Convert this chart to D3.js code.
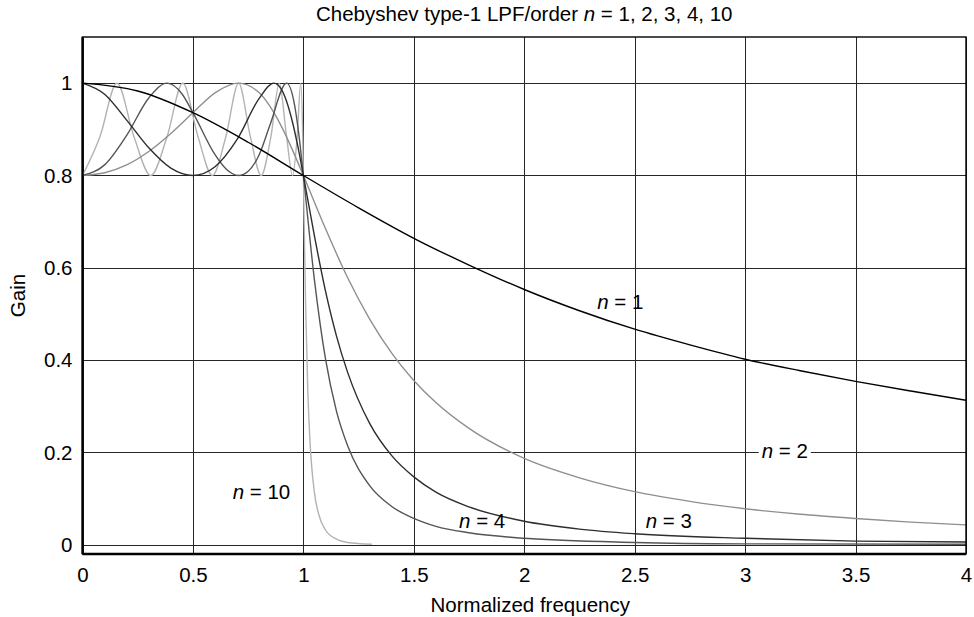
<!DOCTYPE html>
<html lang="en">
<head>
    <meta charset="UTF-8">
    <title>Chebyshev type-1 LPF</title>
    <script src="https://d3js.org/d3.v7.min.js"></script>
    <style>
        body { margin: 0; background: #fff; }
        svg text {
            font-family: "Liberation Sans", Arial, Helvetica, sans-serif;
            fill: #000;
        }
        .grid line { stroke: #262626; stroke-width: 1px; shape-rendering: crispEdges; }
        .grid path { display: none; }
        .curve { fill: none; stroke-width: 1.4px; }
    </style>
</head>
<body>
<svg id="chart" width="974" height="617"></svg>
<script>
    // Values (normalized frequency -> gain)
    const freqN1 = [0, 0.25, 0.5, 0.75, 1, 1.25, 1.5, 1.75, 2, 2.25, 2.5, 2.75, 3, 3.25, 3.5, 3.75, 4];
    const gainN1 = [1, 0.983, 0.936, 0.872, 0.8, 0.730, 0.664, 0.606, 0.553, 0.507, 0.467, 0.433, 0.402, 0.377, 0.354, 0.333, 0.313];

    const freqN2 = [0, 0.1, 0.2, 0.3, 0.4, 0.5, 0.6, 0.707, 0.8, 0.9, 0.95, 1, 1.1, 1.2, 1.3, 1.4, 1.5, 1.6, 1.75, 2, 2.25, 2.5, 2.75, 3, 3.25, 3.5, 3.75, 4];
    const gainN2 = [0.8, 0.806, 0.823, 0.852, 0.891, 0.936, 0.979, 1, 0.979, 0.907, 0.856, 0.8, 0.685, 0.579, 0.489, 0.415, 0.356, 0.308, 0.252, 0.187, 0.145, 0.115, 0.094, 0.078, 0.066, 0.057, 0.049, 0.043];

    const freqN3 = [0, 0.1, 0.2, 0.3, 0.4, 0.5, 0.6, 0.7, 0.8, 0.866, 0.9, 0.95, 0.975, 1, 1.05, 1.1, 1.15, 1.2, 1.3, 1.4, 1.5, 1.6, 1.75, 2, 2.25, 2.5, 3, 3.5, 4];
    const gainN3 = [1, 0.976, 0.920, 0.860, 0.816, 0.8, 0.819, 0.878, 0.967, 1, 0.987, 0.917, 0.863, 0.8, 0.669, 0.550, 0.452, 0.374, 0.263, 0.193, 0.147, 0.114, 0.082, 0.051, 0.034, 0.024, 0.014, 0.008, 0.006];

    const freqN4 = [0, 0.1, 0.2, 0.3, 0.383, 0.45, 0.5, 0.6, 0.65, 0.707, 0.75, 0.8, 0.85, 0.924, 0.96, 0.98, 1, 1.05, 1.1, 1.15, 1.2, 1.3, 1.4, 1.5, 1.6, 1.75, 2, 2.5, 3, 4];
    const gainN4 = [0.8, 0.823, 0.887, 0.968, 1, 0.977, 0.936, 0.845, 0.814, 0.8, 0.809, 0.845, 0.911, 1, 0.953, 0.887, 0.8, 0.574, 0.403, 0.289, 0.215, 0.128, 0.083, 0.057, 0.040, 0.026, 0.014, 0.005, 0.002, 0.001];

    const freqN10 = [0, 0.079, 0.156, 0.233, 0.309, 0.383, 0.454, 0.523, 0.588, 0.649, 0.707, 0.760, 0.809, 0.853, 0.891, 0.924, 0.951, 0.972, 0.988, 0.997, 1, 1.01, 1.02, 1.03, 1.05, 1.07, 1.1, 1.15, 1.2, 1.31];
    const gainN10 = [0.8, 0.884, 1, 0.884, 0.8, 0.884, 1, 0.884, 0.8, 0.884, 1, 0.884, 0.8, 0.884, 1, 0.884, 0.8, 0.884, 1, 0.884, 0.8, 0.523, 0.335, 0.224, 0.113, 0.065, 0.032, 0.012, 0.005, 0.001];

    const orders = [10, 2, 4, 3, 1];
    const xTicks = [0, 0.5, 1, 1.5, 2, 2.5, 3, 3.5, 4];
    const yTicks = [0, 0.2, 0.4, 0.6, 0.8, 1];

    // where each "n = k" label sits, in data units
    const labelOrder = [1, 2, 3, 4, 10];
    const labelFreq = [2.33, 3.075, 2.55, 1.705, 0.68];
    const labelGain = [0.527, 0.203, 0.052, 0.052, 0.114];

    const seriesData = {
        1: d3.zip(freqN1, gainN1),
        2: d3.zip(freqN2, gainN2),
        3: d3.zip(freqN3, gainN3),
        4: d3.zip(freqN4, gainN4),
        10: d3.zip(freqN10, gainN10)
    };
    const colors = { 1: "#000", 2: "#8f8f8f", 3: "#2e2e2e", 4: "#555", 10: "#b3b3b3" };

    const margin = { top: 37, right: 8, bottom: 63, left: 82.5 };
    const width = 974 - margin.left - margin.right;
    const height = 617 - margin.top - margin.bottom;

    const svg = d3.select("#chart");
    const g = svg.append("g").attr("transform", `translate(${margin.left},${margin.top})`);

    const x = d3.scaleLinear().domain([0, 4]).range([0, width]);
    const y = d3.scaleLinear().domain([-0.02, 1.1]).range([height, 0]);

    // grid lines + tick labels
    g.append("g")
        .attr("class", "grid")
        .attr("transform", `translate(0,${height})`)
        .call(d3.axisBottom(x).tickValues(xTicks).tickSize(-height).tickPadding(13).tickFormat(d3.format("")))
        .call(s => s.selectAll("text").attr("font-size", 20.5));

    g.append("g")
        .attr("class", "grid")
        .call(d3.axisLeft(y).tickValues(yTicks).tickSize(-width).tickPadding(10).tickFormat(d3.format("")))
        .call(s => s.selectAll("text").attr("font-size", 20.5));

    g.selectAll(".grid .tick line").attr("stroke", "#262626");

    // curves
    g.append("clipPath").attr("id", "plotClip")
        .append("rect").attr("width", width).attr("height", height);

    const line = d3.line()
        .x(d => x(d[0]))
        .y(d => y(d[1]))
        .curve(d3.curveMonotoneX);

    g.append("g").attr("clip-path", "url(#plotClip)")
        .selectAll("path")
        .data(orders)
        .enter()
        .append("path")
        .attr("class", "curve")
        .attr("stroke", d => colors[d])
        .attr("d", d => line(seriesData[d]));

    // frame
    g.append("rect")
        .attr("width", width).attr("height", height)
        .attr("fill", "none").attr("stroke", "#000").attr("stroke-width", 1.4);
    g.append("line").attr("x1", 0).attr("x2", 0).attr("y1", 0).attr("y2", height)
        .attr("stroke", "#000").attr("stroke-width", 2.2);
    g.append("line").attr("x1", 0).attr("x2", width).attr("y1", height).attr("y2", height)
        .attr("stroke", "#000").attr("stroke-width", 2.6);

    // curve labels
    const labels = g.append("g").selectAll("g")
        .data(labelOrder)
        .enter()
        .append("g")
        .attr("transform", (d, i) => `translate(${x(labelFreq[i])},${y(labelGain[i])})`);

    labels.each(function (d) {
        const grp = d3.select(this);
        const t = grp.append("text")
            .attr("font-size", 20.5)
            .attr("dy", "0.35em");
        t.append("tspan").attr("font-style", "italic").text("n");
        t.append("tspan").text(" = " + d);
        if (d === 2) {
            const bb = t.node().getBBox();
            grp.insert("rect", "text")
                .attr("x", bb.x - 3).attr("y", bb.y + 2)
                .attr("width", bb.width + 6).attr("height", bb.height - 4)
                .attr("fill", "#fff");
        }
    });

    // title and axis labels
    const title = svg.append("text")
        .attr("x", margin.left + width / 2)
        .attr("y", 21)
        .attr("text-anchor", "middle")
        .attr("font-size", 20.5);
    title.append("tspan").text("Chebyshev type-1 LPF/order ");
    title.append("tspan").attr("font-style", "italic").text("n");
    title.append("tspan").text(" = 1, 2, 3, 4, 10");

    svg.append("text")
        .attr("x", margin.left + width / 2 + 6)
        .attr("y", 612)
        .attr("text-anchor", "middle")
        .attr("font-size", 20.5)
        .text("Normalized frequency");

    svg.append("text")
        .attr("transform", `translate(18,${margin.top + height / 2})rotate(-90)`)
        .attr("text-anchor", "middle")
        .attr("dy", "0.35em")
        .attr("font-size", 20.5)
        .text("Gain");
</script>
</body>
</html>
